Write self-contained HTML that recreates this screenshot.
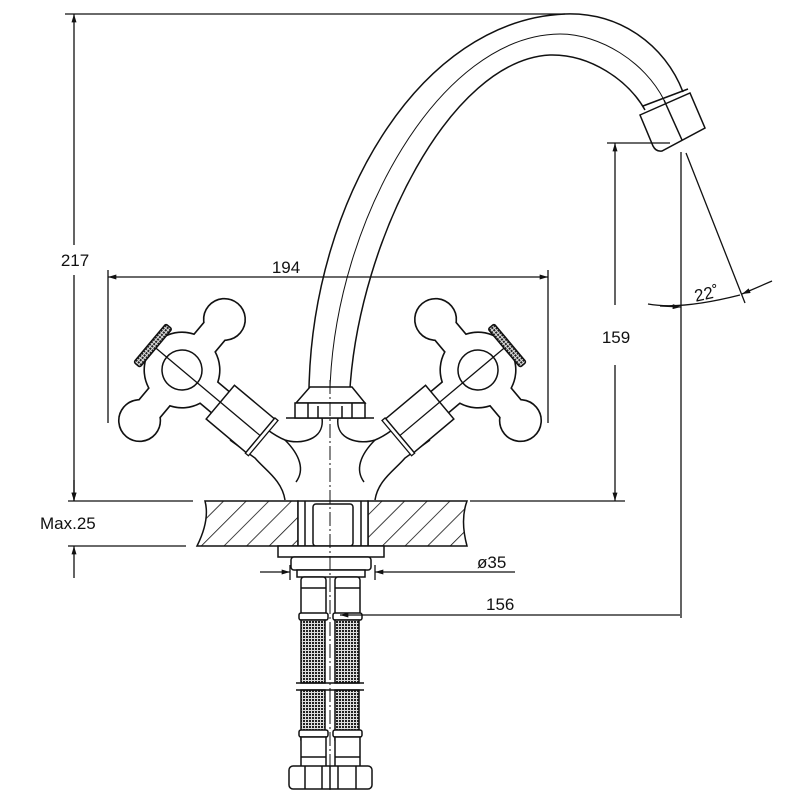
<!DOCTYPE html>
<html><head><meta charset="utf-8"><style>
html,body{margin:0;padding:0;background:#fff;}
svg{display:block}
text{font-family:"Liberation Sans",sans-serif;font-size:17px;fill:#111}
</style></head><body>
<svg width="800" height="800" viewBox="0 0 800 800" xmlns="http://www.w3.org/2000/svg">
<defs>
<marker id="ar" viewBox="0 0 10 6" refX="10" refY="3" markerWidth="12" markerHeight="5" orient="auto-start-reverse" markerUnits="userSpaceOnUse"><path d="M0,0 L10,3 L0,6 z" fill="#111"/></marker>
<pattern id="hatch" patternUnits="userSpaceOnUse" width="16" height="16" patternTransform="rotate(45)"><line x1="0" y1="0" x2="0" y2="16" stroke="#111" stroke-width="1.6"/></pattern>
<pattern id="mesh" patternUnits="userSpaceOnUse" width="3" height="3"><rect width="3" height="3" fill="#ddd"/><rect width="2" height="2" fill="#222"/></pattern>
<g id="hshape">
  <circle cx="0" cy="0" r="37"/>
  <rect x="-13" y="-68" width="26" height="68" rx="10"/>
  <circle cx="0" cy="-66" r="20"/>
  <rect x="-13" y="0" width="26" height="68" rx="10"/>
  <circle cx="0" cy="66" r="20"/>
  <rect x="0" y="-13" width="70" height="26"/>
</g>
<g id="handle">
  <use href="#hshape" stroke="#111" stroke-width="3.2" fill="#fff"/>
  <use href="#hshape" fill="#fff"/>
  <circle cx="0" cy="0" r="20" fill="none" stroke="#111" stroke-width="1.5"/>
  <line x1="-36" y1="0" x2="70" y2="0" stroke="#111" stroke-width="1.3"/>
  <rect x="-42" y="-25" width="8" height="50" rx="2" fill="url(#mesh)" stroke="#111" stroke-width="1.5"/>
  <rect x="50" y="-22" width="52" height="44" fill="#fff" stroke="#111" stroke-width="1.5"/>
  <line x1="50" y1="0" x2="102" y2="0" stroke="#111" stroke-width="1.3"/>
  <rect x="102" y="-23" width="4" height="46" fill="#fff" stroke="#111" stroke-width="1.3"/>
</g>
</defs>

<g fill="none" stroke="#111" stroke-width="1.5">
<path d="M309,388 C313,200 420,20 565,14 C620,12 665,45 683,92"/>
<path d="M350,388 C360,240 450,60 550,55 C590,54 628,80 645,110"/>
<path d="M330,388 C336,220 440,35 560,34 C600,34 645,62 664,100" stroke-width="1"/>
<path d="M640,115 L690,93 L705,128 L662,151 Q656,152 653,146 Z" fill="#fff"/>
<line x1="643" y1="106" x2="688" y2="89"/>
<line x1="664" y1="100" x2="682" y2="140"/>

<path d="M285,500 C282,480 265,470 255,458 L230,440 M375,500 C378,480 395,470 405,458 L430,440" fill="none"/>
<path d="M286,418 L374,418" />
<path d="M322,418 C325,440 300,445 285,440 C275,436 268,430 265,428 M338,418 C335,440 360,445 375,440 C385,436 392,430 395,428"/>
<path d="M285,440 C300,455 305,470 296,482 M375,440 C360,455 355,470 364,482"/>
</g>

<use href="#handle" transform="translate(182,370) rotate(40)"/>
<use href="#handle" transform="translate(660,0) scale(-1,1) translate(182,370) rotate(40)"/>

<g fill="#fff" stroke="#111" stroke-width="1.5">
<path d="M310,387 L352,387 L365,403 L296,403 Z"/>
<rect x="295" y="403" width="70" height="15"/>
<line x1="308" y1="403" x2="308" y2="418"/><line x1="318" y1="406" x2="318" y2="418"/>
<line x1="342" y1="406" x2="342" y2="418"/><line x1="352" y1="403" x2="352" y2="418"/>
</g>

<g stroke="#111" stroke-width="1.5">
<path d="M205,501 L298,501 L298,546 L197,546 Q210,520 205,501 Z" fill="url(#hatch)"/>
<path d="M368,501 L467,501 Q460,520 467,546 L368,546 Z" fill="url(#hatch)"/>
<rect x="298" y="501" width="70" height="45" fill="#fff"/>
<rect x="313" y="504" width="40" height="42" rx="3" fill="#fff"/>
<line x1="305" y1="501" x2="305" y2="546"/><line x1="361" y1="501" x2="361" y2="546"/>
<rect x="278" y="546" width="106" height="11" fill="#fff"/>
<rect x="291" y="557" width="80" height="13" rx="3" fill="#fff"/>
<rect x="297" y="570" width="68" height="7" fill="#fff"/>
</g>

<g stroke="#111" stroke-width="1.5" fill="#fff">
<rect x="301" y="577" width="25" height="38" rx="3"/>
<rect x="335" y="577" width="25" height="38" rx="3"/>
<line x1="301" y1="588" x2="326" y2="588"/><line x1="335" y1="588" x2="360" y2="588"/>
<rect x="299" y="613" width="29" height="7" rx="2"/>
<rect x="333" y="613" width="29" height="7" rx="2"/>
<rect x="301" y="620" width="24" height="63" fill="url(#mesh)"/>
<rect x="335" y="620" width="24" height="63" fill="url(#mesh)"/>
<rect x="301" y="690" width="24" height="50" fill="url(#mesh)"/>
<rect x="335" y="690" width="24" height="50" fill="url(#mesh)"/>
<line x1="296" y1="683" x2="364" y2="683"/><line x1="296" y1="690" x2="364" y2="690"/>
<rect x="299" y="730" width="29" height="7" rx="2"/>
<rect x="333" y="730" width="29" height="7" rx="2"/>
<rect x="301" y="737" width="25" height="30"/>
<rect x="335" y="737" width="25" height="30"/>
<line x1="301" y1="757" x2="326" y2="757"/><line x1="335" y1="757" x2="360" y2="757"/>
<rect x="289" y="766" width="83" height="23" rx="4"/>
<line x1="305" y1="766" x2="305" y2="789"/><line x1="322" y1="766" x2="322" y2="789"/>
<line x1="330" y1="766" x2="330" y2="789"/><line x1="338" y1="766" x2="338" y2="789"/>
<line x1="356" y1="766" x2="356" y2="789"/>
</g>

<line x1="330" y1="380" x2="330" y2="790" stroke="#111" stroke-width="1" stroke-dasharray="14,3,2,3"/>

<g stroke="#111" stroke-width="1.3" fill="none">
<line x1="65" y1="14" x2="565" y2="14"/>
<line x1="74" y1="245" x2="74" y2="14" marker-end="url(#ar)"/>
<line x1="74" y1="275" x2="74" y2="501" marker-end="url(#ar)"/>
<line x1="68" y1="501" x2="193" y2="501"/>
<line x1="68" y1="546" x2="186" y2="546"/>
<line x1="470" y1="501" x2="625" y2="501"/>
<line x1="74" y1="480" x2="74" y2="501" marker-end="url(#ar)"/>
<line x1="74" y1="578" x2="74" y2="546" marker-end="url(#ar)"/>
<line x1="108" y1="270" x2="108" y2="423"/>
<line x1="548" y1="270" x2="548" y2="423"/>
<line x1="108" y1="277" x2="548" y2="277" marker-start="url(#ar)" marker-end="url(#ar)"/>
<line x1="607" y1="143" x2="670" y2="143"/>
<line x1="615" y1="305" x2="615" y2="143" marker-end="url(#ar)"/>
<line x1="615" y1="365" x2="615" y2="501" marker-end="url(#ar)"/>
<line x1="681" y1="152" x2="681" y2="618"/>
<line x1="686" y1="153" x2="745" y2="303"/>
<path d="M648,304 Q681,310 740,295"/>
<line x1="660" y1="306" x2="681" y2="307" marker-end="url(#ar)"/>
<line x1="772" y1="281" x2="742" y2="294" marker-end="url(#ar)"/>
<line x1="260" y1="572" x2="290" y2="572" marker-end="url(#ar)"/>
<line x1="515" y1="572" x2="375" y2="572" marker-end="url(#ar)"/>
<line x1="290" y1="565" x2="290" y2="580"/>
<line x1="375" y1="565" x2="375" y2="580"/>
<line x1="680" y1="615" x2="340" y2="615" marker-end="url(#ar)"/>
</g>
<text x="75" y="266" text-anchor="middle">217</text>
<text x="286" y="273" text-anchor="middle">194</text>
<text x="616" y="343" text-anchor="middle">159</text>
<text x="40" y="529">Max.25</text>
<text x="477" y="568">ø35</text>
<text x="486" y="610">156</text>
<text x="694" y="299" transform="rotate(-12 708 292)">22˚</text>
</svg>
</body></html>
